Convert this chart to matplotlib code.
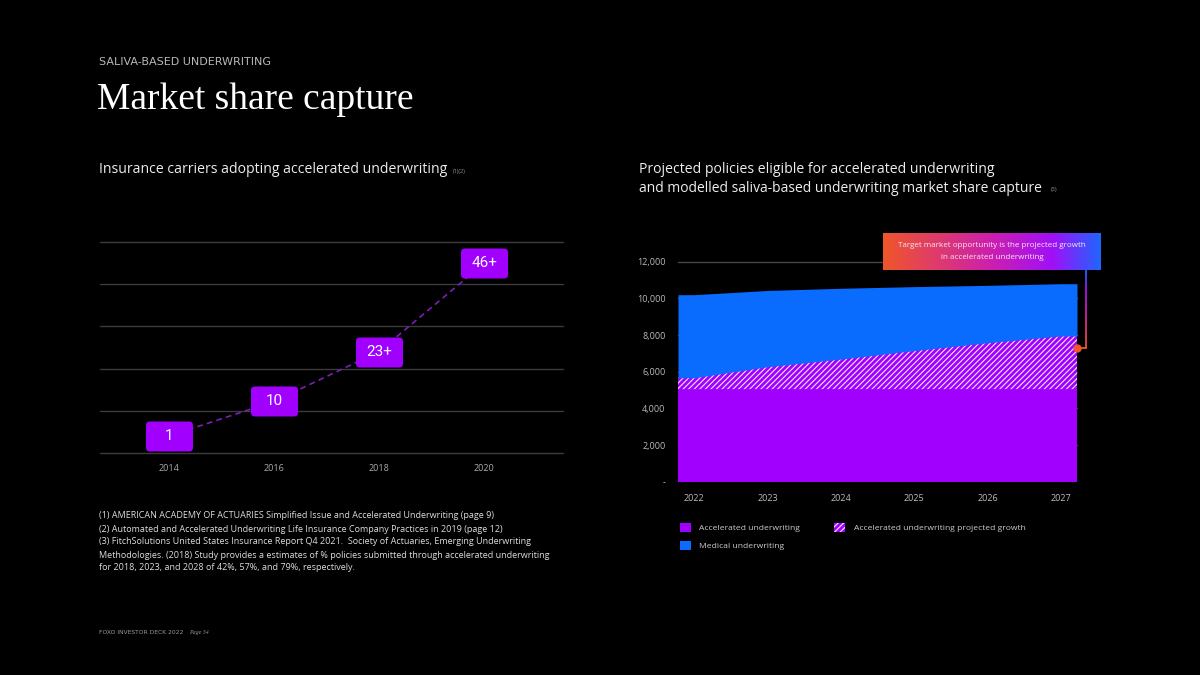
import numpy as np
import matplotlib
matplotlib.use('Agg')
import matplotlib.pyplot as plt
from matplotlib.patches import Patch, BoxStyle
from matplotlib.path import Path
from matplotlib.colors import LinearSegmentedColormap
from matplotlib.collections import LineCollection
from matplotlib import transforms

# --- data ---
adopt_years = [2014, 2016, 2018, 2020]
adopt_values = [1, 10, 23, 46]
adopt_suffix = ['', '', '+', '+']

proj_years = [2022, 2023, 2024, 2025, 2026, 2027]
accel_base = [5050, 5050, 5050, 5050, 5050, 5050]
accel_growth_top = [5670, 6270, 6690, 7150, 7580, 7950]
medical_top = [10200, 10430, 10550, 10640, 10710, 10800]
callout_value = 7300

y_ticks = [0, 2000, 4000, 6000, 8000, 10000, 12000]

footnotes = [
    "(1) AMERICAN ACADEMY OF ACTUARIES Simplified Issue and Accelerated Underwriting (page 9)",
    "(2) Automated and Accelerated Underwriting Life Insurance Company Practices in 2019 (page 12)",
    "(3) FitchSolutions United States Insurance Report Q4 2021.  Society of Actuaries, Emerging Underwriting",
    "Methodologies. (2018) Study provides a estimates of % policies submitted through accelerated underwriting",
    "for 2018, 2023, and 2028 of 42%, 57%, and 79%, respectively.",
]

PURPLE = '#A100FF'
BLUE = '#0A6CFF'
SANS = ['Open Sans', 'DejaVu Sans']

plt.rcParams['font.family'] = SANS
plt.rcParams['hatch.linewidth'] = 0.8

W, H = 1200, 675
fig = plt.figure(figsize=(12, 6.75), dpi=100, facecolor='black')


def fx(px):
    return px / W


def fy(py):
    return 1 - py / H


# --- header ---
fig.text(fx(99), fy(62), 'SALIVA-BASED UNDERWRITING', color='#b8b8b8', fontsize=8.0,
         family='DejaVu Sans', va='center', ha='left')
fig.text(fx(97), fy(100), 'Market share capture', color='white', fontsize=27,
         family='Liberation Serif', va='center', ha='left')
fig.text(fx(99), fy(170), 'Insurance carriers adopting accelerated underwriting',
         color='#eeeeee', fontsize=10.1, va='center', ha='left')
fig.text(fx(453), fy(171), '(1)(2)', color='#999999', fontsize=4, va='center', ha='left')
fig.text(fx(639), fy(170), 'Projected policies eligible for accelerated underwriting',
         color='#eeeeee', fontsize=10.1, va='center', ha='left')
fig.text(fx(639), fy(188), 'and modelled saliva-based underwriting market share capture',
         color='#eeeeee', fontsize=10.0, va='center', ha='left')
fig.text(fx(1051), fy(189), '(3)', color='#999999', fontsize=4, va='center', ha='left')

# --- left chart ---
ax1 = fig.add_axes([fx(100), fy(453), fx(463), 211 / H])
ax1.set_facecolor('black')
lo, hi = -3.4, 51.5
ax1.set_ylim(lo, hi)
ax1.set_xlim(2012.69, 2021.5)
for g in np.linspace(lo, hi, 6):
    ax1.axhline(g, color='#3c3c3c', lw=1, clip_on=False, zorder=0)

ax1.plot(adopt_years, adopt_values, color='#7a1fb8', lw=1.2, ls=(0, (3.5, 2.5)), zorder=2)

# rounded box marker
box_path = BoxStyle.Round(pad=0, rounding_size=4)(-23.5, -15, 47, 30, 1)
box_marker = Path(box_path.vertices, box_path.codes)
ax1.plot(adopt_years, adopt_values, ls='none', marker=box_marker, ms=47 * 0.72,
         mfc=PURPLE, mec='none', zorder=3)
for xv, yv, suf in zip(adopt_years, adopt_values, adopt_suffix):
    ax1.text(xv, yv, f'{yv}{suf}', color='white', fontsize=11, ha='center', va='center',
             family='Roboto', zorder=4)

ax1.set_xticks(adopt_years)
ax1.set_xticklabels([str(y) for y in adopt_years])
ax1.tick_params(axis='x', length=0, colors='#aaaaaa', labelsize=6.5, pad=8)
ax1.set_yticks([])
for s in ax1.spines.values():
    s.set_visible(False)

# --- right chart ---
ax2 = fig.add_axes([fx(678), fy(481.7), fx(399), 220 / H])
ax2.set_facecolor('black')
xl = (2021.78, 2027.22)
ax2.set_xlim(*xl)
ax2.set_ylim(0, 12000)
for g in y_ticks[1:]:
    ax2.axhline(g, color='#444444', lw=1, zorder=0, clip_on=False)

# areas span the full plot width: hold the end values out to the edges
xs = np.r_[xl[0], proj_years, xl[1]]


def pad(v):
    return np.r_[v[0], v, v[-1]]


ax2.fill_between(xs, 0, pad(accel_base), color=PURPLE, lw=0, zorder=2)
ax2.fill_between(xs, pad(accel_base), pad(accel_growth_top), facecolor=PURPLE,
                 edgecolor='#f4e6ff', hatch='//////', lw=0, zorder=2)
ax2.fill_between(xs, pad(accel_growth_top), pad(medical_top), color=BLUE, lw=0, zorder=2)

ax2.set_xticks(proj_years)
ax2.set_xticklabels([str(y) for y in proj_years])
ax2.set_yticks(y_ticks)
ax2.set_yticklabels(['-' if v == 0 else f'{v:,}' for v in y_ticks])
ax2.tick_params(axis='x', length=0, colors='#bbbbbb', labelsize=6.5, pad=9)
ax2.tick_params(axis='y', length=0, colors='#bbbbbb', labelsize=6.5, pad=9)
for s in ax2.spines.values():
    s.set_visible(False)

# callout box with gradient
grad_cmap = LinearSegmentedColormap.from_list(
    'callout', [(0, '#F0562A'), (0.5, '#CC1FB0'), (0.78, '#A010F8'), (1, '#1F66FF')])
axb = fig.add_axes([fx(883), fy(270), fx(218), 37 / H])
axb.imshow(np.linspace(0, 1, 256)[None, :], cmap=grad_cmap, aspect='auto',
           extent=(0, 1, 0, 1))
axb.set_xlim(0, 1)
axb.set_ylim(0, 1)
axb.axis('off')
axb.text(0.5, 0.65, 'Target market opportunity is the projected growth', color='#f4e8f4',
         fontsize=5.8, ha='center', va='center')
axb.text(0.5, 0.35, 'in accelerated underwriting', color='#f4e8f4', fontsize=5.8,
         ha='center', va='center')

# connector line from callout to the growth area
bt = transforms.blended_transform_factory(ax2.transAxes, ax2.transData)
cx = 1.0226
ys = np.linspace(11550, callout_value, 40)
segs = [[(cx, ys[i]), (cx, ys[i + 1])] for i in range(len(ys) - 1)]
seg_cols = grad_cmap(np.linspace(1, 0.05, len(segs)))
lc = LineCollection(segs, colors=seg_cols, lw=1.3, transform=bt, clip_on=False, zorder=5)
ax2.add_collection(lc)
ax2.plot([1.0, cx], [callout_value, callout_value], color='#F0562A', lw=1.3, transform=bt,
         clip_on=False, zorder=5)
ax2.plot([1.0], [callout_value], 'o', color='#F0562A', ms=5, transform=bt, clip_on=False,
         zorder=6)

# legend
handles = [Patch(facecolor=PURPLE, lw=0), Patch(facecolor=BLUE, lw=0),
           Patch(facecolor=PURPLE, edgecolor='#f4e6ff', hatch='//////', lw=0)]
labels = ['Accelerated underwriting', 'Medical underwriting',
          'Accelerated underwriting projected growth']
leg = fig.legend(handles, labels, loc='upper left', bbox_to_anchor=(fx(680), fy(523)),
                 ncol=2, frameon=False, fontsize=6.1, labelcolor='#cccccc',
                 handlelength=1.3, handleheight=1.3, handletextpad=1.0,
                 labelspacing=0.95, columnspacing=4.0, borderpad=0, borderaxespad=0)

# footnotes
for i, line in enumerate(footnotes):
    fig.text(fx(99), fy(516 + i * 13), line, color='#dddddd', fontsize=6.5, va='center',
             ha='left')

fig.text(fx(99), fy(632), 'FOXO INVESTOR DECK 2022', color='#999999',
         fontsize=4.3, family='DejaVu Sans', va='center', ha='left')
fig.text(fx(189), fy(632), 'Page 34', color='#999999', fontsize=4.2, style='italic',
         family='Liberation Serif', va='center', ha='left')

fig.savefig('out.png', dpi=100, facecolor='black')
